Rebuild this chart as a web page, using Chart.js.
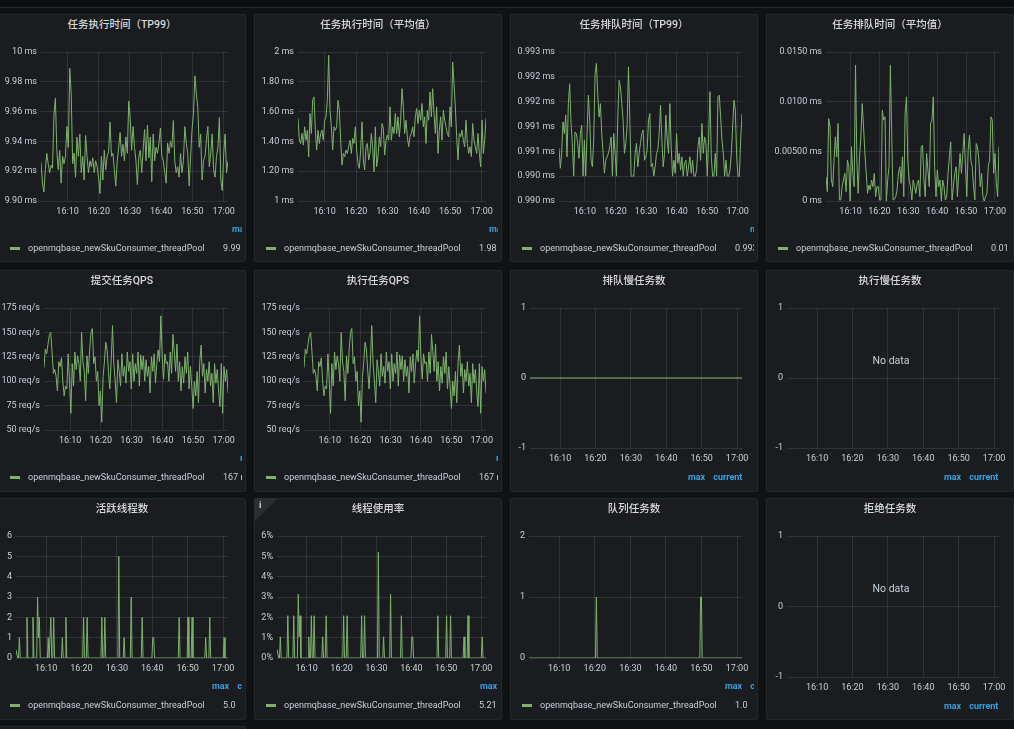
<!DOCTYPE html>
<html>
<head>
<meta charset="utf-8">
<script src="https://cdn.jsdelivr.net/npm/chart.js@4.4.1/dist/chart.umd.min.js"></script>
<style>
  body { margin: 0; width: 1014px; height: 729px; overflow: hidden; position: relative; background: #111214;
         font-family: Roboto, "Noto Sans CJK SC", sans-serif; }
  .topbar { position: absolute; left: 0; top: 0; width: 1014px; height: 7px; background: #0e0f12; border-bottom: 1px solid #26282c; }
  .panel { position: absolute; background: #1a1c20; box-shadow: inset 0 0 0 1px #25272b; border-radius: 2px; overflow: hidden; }
  .title { position: absolute; left: 0; right: 0; top: 4px; text-align: center; color: #d8d9da; font-size: 10.5px; font-weight: 500; line-height: 14px; }
  .box { position: absolute; left: 0; }
  .legend { position: absolute; left: 0; width: 244px; height: 100%; top: 0; overflow: hidden; pointer-events: none; }
  .head { position: absolute; color: #33a2e5; font-size: 9px; font-weight: bold; line-height: 12px; white-space: nowrap; }
  .head span { margin-left: 8px; }
  .row { position: absolute; left: 0; line-height: 12px; font-size: 9px; color: #c7d0d9; white-space: nowrap; }
  .dash { position: absolute; left: 12px; top: 5px; width: 10px; height: 3px; background: #7eb26d; }
  .nodata { position: absolute; left: 0; width: 250px; text-align: center; color: #c7d0d9; font-size: 10.5px; line-height: 14px; }
  .info { position: absolute; left: 0; top: 0; width: 0; height: 0; border-top: 24px solid #2a2d32; border-right: 24px solid transparent; }
  .info-i { position: absolute; left: 5px; top: 2px; color: #c7d0d9; font-size: 9px; font-weight: bold; }
</style>
</head>
<body>
<div class="topbar"></div>
<script>
// time axis, minutes after 16:00
const timeMin = 1.5, timeMax = 61.4;
const timeTicks = [10, 20, 30, 40, 50, 60];
const timeLabels = ['16:10', '16:20', '16:30', '16:40', '16:50', '17:00'];
const seriesName = 'openmqbase_newSkuConsumer_threadPool';

// 任务执行时间（TP99）, ms
const execTp99 = [9.926, 9.912, 9.906, 9.921, 9.932, 9.925, 9.919, 9.924, 9.922, 9.958, 9.969, 9.934, 9.921, 9.934, 9.912, 9.930, 9.925, 9.930, 9.950, 9.936,
  9.989, 9.972, 9.925, 9.932, 9.916, 9.943, 9.930, 9.945, 9.919, 9.930, 9.914, 9.944, 9.930, 9.919, 9.927, 9.923, 9.929, 9.919, 9.927, 9.923,
  9.916, 9.905, 9.930, 9.914, 9.934, 9.921, 9.930, 9.933, 9.953, 9.930, 9.932, 9.921, 9.910, 9.927, 9.936, 9.946, 9.930, 9.938, 9.927, 9.943,
  9.932, 9.967, 9.956, 9.934, 9.950, 9.936, 9.927, 9.911, 9.930, 9.934, 9.919, 9.934, 9.948, 9.927, 9.951, 9.929, 9.943, 9.913, 9.945, 9.927,
  9.936, 9.932, 9.939, 9.949, 9.930, 9.927, 9.919, 9.912, 9.939, 9.932, 9.940, 9.936, 9.954, 9.927, 9.919, 9.923, 9.916, 9.932, 9.919, 9.927,
  9.950, 9.939, 9.932, 9.910, 9.930, 9.948, 9.959, 9.984, 9.972, 9.963, 9.936, 9.945, 9.914, 9.927, 9.930, 9.941, 9.950, 9.923, 9.932, 9.945,
  9.921, 9.916, 9.930, 9.936, 9.956, 9.914, 9.907, 9.932, 9.945, 9.919, 9.927];
const execTp99Ticks = [9.9, 9.92, 9.94, 9.96, 9.98, 10];
const execTp99Labels = ['9.90 ms', '9.92 ms', '9.94 ms', '9.96 ms', '9.98 ms', '10 ms'];

// 任务执行时间（平均值）, ms
const execAvg = [1.554, 1.408, 1.386, 1.453, 1.375, 1.498, 1.408, 1.475, 1.297, 1.587, 1.453, 1.676, 1.699, 1.475, 1.342, 1.475, 1.386, 1.453, 1.475, 1.408,
  1.542, 1.565, 1.676, 1.978, 1.609, 1.498, 1.342, 1.498, 1.475, 1.498, 1.676, 1.609, 1.408, 1.241, 1.319, 1.297, 1.342, 1.319, 1.364, 1.408,
  1.319, 1.420, 1.386, 1.498, 1.342, 1.252, 1.219, 1.342, 1.531, 1.275, 1.208, 1.364, 1.386, 1.275, 1.319, 1.453, 1.364, 1.196, 1.498, 1.230,
  1.297, 1.431, 1.364, 1.520, 1.487, 1.308, 1.408, 1.442, 1.408, 1.632, 1.408, 1.498, 1.453, 1.587, 1.453, 1.565, 1.431, 1.542, 1.754, 1.632,
  1.453, 1.542, 1.431, 1.364, 1.431, 1.453, 1.498, 1.431, 1.565, 1.621, 1.520, 1.609, 1.542, 1.654, 1.498, 1.565, 1.386, 1.609, 1.542, 1.732,
  1.565, 1.754, 1.587, 1.453, 1.632, 1.319, 1.475, 1.565, 1.408, 1.609, 1.542, 1.498, 1.453, 1.431, 1.632, 1.498, 1.933, 1.788, 1.632, 1.431,
  1.275, 1.453, 1.431, 1.475, 1.408, 1.364, 1.542, 1.386, 1.319, 1.364, 1.297, 1.520, 1.408, 1.364, 1.319, 1.453, 1.319, 1.230, 1.542, 1.319,
  1.408, 1.554];
const execAvgTicks = [1, 1.2, 1.4, 1.6, 1.8, 2];
const execAvgLabels = ['1 ms', '1.20 ms', '1.40 ms', '1.60 ms', '1.80 ms', '2 ms'];

// 任务排队时间（TP99）, ms
const queueTp99 = [0.99056, 0.99016, 0.99046, 0.99109, 0.99086, 0.99123, 0.99039, 0.99146, 0.99186, 0.99106, 0.99066, 0.99, 0.99089, 0.99086, 0.99066,
  0.99036, 0.99086, 0.99103, 0.99, 0.99073, 0.99, 0.99086, 0.99163, 0.99113, 0.99032, 0.99019, 0.99073, 0.99206, 0.99227, 0.99166,
  0.99119, 0.99146, 0.99086, 0.99046, 0.99006, 0.99032, 0.99039, 0.99046, 0.99059, 0.99079, 0.99, 0.99086, 0.99046, 0.99, 0.99119,
  0.99193, 0.9918, 0.99146, 0.99113, 0.99046, 0.99066, 0.99099, 0.9922, 0.99119, 0.99, 0.99, 0.99, 0.99046, 0.99066, 0.99019,
  0.99046, 0.99066, 0.99086, 0.99093, 0.99032, 0.99039, 0.99053, 0.99113, 0.99126, 0.99019, 0.99026, 0.99, 0.99019, 0.99046, 0.99053,
  0.99086, 0.99143, 0.99073, 0.99019, 0.99046, 0.99123, 0.99073, 0.99046, 0.99146, 0.99059, 0.99, 0.99032, 0.99006, 0.99086, 0.99026,
  0.99046, 0.99012, 0.99039, 0.99, 0.99026, 0.99032, 0.99, 0.99019, 0.99039, 0.99006, 0.99032, 0.99, 0.99, 0.99012, 0.99059,
  0.99079, 0.99032, 0.99106, 0.99046, 0.99079, 0.99066, 0.99, 0.99073, 0.9917, 0.99039, 0.99, 0.99, 0.99046, 0.99, 0.9916,
  0.99163, 0.99119, 0.99073, 0.99046, 0.99, 0.99032, 0.99, 0.99, 0.99012, 0.99046, 0.99099, 0.99153, 0.99133, 0.99039, 0.99,
  0.99, 0.99073, 0.99126];
const queueTp99Ticks = [0.9895, 0.99, 0.9905, 0.991, 0.9915, 0.992, 0.9925];
const queueTp99Labels = ['0.990 ms', '0.990 ms', '0.991 ms', '0.991 ms', '0.992 ms', '0.992 ms', '0.993 ms'];

// 任务排队时间（平均值）, ms
const queueAvg = [0.00244, 0.00094, 0.0083, 0.00747, 0.00211, 0.00144, 0.00412, 0.00646, 0.00445, 0.0078, 0.0001, 0.0001, 0.00144, 0.00211, 0.00278,
  0.00094, 0.00412, 0.00345, 0, 0.00546, 0.00278, 0.00144, 0.01366, 0.00412, 0.00077, 0.00445, 0.00646, 0.00981, 0.00747, 0.00479,
  0.00278, 0.00077, 0.00161, 0.0011, 0.00211, 0.00144, 0.00278, 0.00044, 0.00144, 0.00144, 0.0001, 0.0001, 0.00914, 0.00814, 0.00847,
  0, 0.00211, 0.00345, 0.01366, 0.0068, 0.0001, 0.00017, 0.00044, 0.0011, 0.00278, 0.00345, 0.00177, 0.00445, 0.00044, 0.00881,
  0.01048, 0.00412, 0.00211, 0.00144, 0.0001, 0.00211, 0.00144, 0.00077, 0.00177, 0.00211, 0.00044, 0.00546, 0.00562, 0.00211, 0.00044,
  0.00479, 0.00311, 0.00144, 0.0078, 0.00814, 0.01048, 0.00345, 0.00044, 0.00311, 0.00144, 0.00211, 0, 0.00211, 0.00144, 0.0001,
  0.00044, 0.00278, 0.00445, 0.00596, 0.0001, 0.00144, 0.00278, 0.00345, 0.00044, 0.00278, 0.00479, 0.00278, 0.00479, 0.0068, 0.00345,
  0.00044, 0.00512, 0.00663, 0.00412, 0.00345, 0.00144, 0.0001, 0.00579, 0.00546, 0.00412, 0.00144, 0.00278, 0.00044, 0, 0.00044,
  0.00077, 0.00345, 0.00412, 0.00847, 0.00814, 0.00278, 0.00479, 0.00177, 0.00044, 0.00546];
const queueAvgTicks = [0, 0.005, 0.01, 0.015];
const queueAvgLabels = ['0 ms', '0.00500 ms', '0.0100 ms', '0.0150 ms'];

// 提交任务QPS / 执行任务QPS, req/s (the two panels show the same curve)
const submitQps = [114, 133, 128, 138, 147, 150, 130, 108, 112, 105, 90, 120, 115, 124, 100, 85, 95, 92, 128, 100,
  67, 118, 95, 130, 112, 126, 118, 100, 150, 120, 110, 80, 126, 108, 132, 150, 154, 118, 125, 100,
  110, 75, 90, 58, 105, 120, 140, 132, 110, 92, 120, 157, 118, 100, 78, 122, 110, 95, 128, 105,
  115, 98, 130, 110, 120, 92, 128, 100, 118, 108, 130, 95, 127, 112, 126, 100, 122, 105, 115, 88,
  125, 110, 128, 98, 118, 132, 120, 167, 125, 102, 128, 118, 120, 100, 130, 108, 148, 130, 110, 138,
  100, 120, 90, 115, 98, 125, 108, 130, 92, 115, 95, 72, 100, 85, 110, 78, 120, 137, 105, 118,
  88, 112, 100, 120, 95, 108, 78, 118, 98, 112, 90, 74, 118, 67, 115, 100, 112, 88];
const execQps = submitQps;
const qpsTicks = [50, 75, 100, 125, 150, 175];
const qpsLabels = ['50 req/s', '75 req/s', '100 req/s', '125 req/s', '150 req/s', '175 req/s'];

// 活跃线程数 / 线程使用率, sampled at these minutes
const threadTimes = [1.5, 1.75, 2.0, 2.2, 2.45, 2.7, 4.35, 4.6, 4.85, 6.05, 6.3, 6.55, 7.35, 7.6, 7.85, 8.1, 8.35,
  10.4, 10.6, 10.85, 11.1, 11.35, 11.6, 11.9, 12.15, 12.4, 14.35, 14.6, 14.85, 15.35, 15.6, 15.85,
  20.35, 20.6, 20.85, 21.35, 21.6, 21.85, 25.5, 25.75, 26.0, 26.35, 26.6, 26.85, 30.3, 30.55, 30.8,
  31.8, 32.05, 32.3, 33.8, 34.05, 34.3, 36.9, 37.15, 37.4, 39.9, 40.15, 40.4, 40.65, 47.35, 47.6, 47.85,
  49.85, 50.1, 50.35, 51.0, 51.25, 51.5, 54.85, 55.1, 55.35, 56.0, 56.25, 56.5, 60.05, 60.3, 60.55, 61.4];
const activeThreads = [0.4, 0.4, 0, 0, 1, 0, 0, 2, 0, 0, 2, 0, 0, 3, 1, 2, 0,
  0, 1, 0, 0, 2, 0, 0, 2, 0, 0, 1, 0, 0, 2, 0,
  0, 2, 0, 0, 2, 0, 0, 2, 0, 0, 2, 0, 0, 5, 0,
  0, 1, 0, 0, 3, 0, 0, 2, 0, 0, 1, 1, 0, 0, 2, 0,
  0, 2, 0, 0, 2, 0, 0, 1, 0, 0, 2, 0, 0, 1, 0, 0];
const threadUsage = [0.42, 0.42, 0, 0, 1.04, 0, 0, 2.08, 0, 0, 2.08, 0, 0, 3.13, 1.04, 2.08, 0,
  0, 1.04, 0, 0, 2.08, 0, 0, 2.08, 0, 0, 1.04, 0, 0, 2.08, 0,
  0, 2.08, 0, 0, 2.08, 0, 0, 2.08, 0, 0, 2.08, 0, 0, 5.21, 0,
  0, 1.04, 0, 0, 3.13, 0, 0, 2.08, 0, 0, 1.04, 1.04, 0, 0, 2.08, 0,
  0, 2.08, 0, 0, 2.08, 0, 0, 1.04, 0, 0, 2.08, 0, 0, 1.04, 0, 0];
const countTicks6 = [0, 1, 2, 3, 4, 5, 6];
const countLabels6 = ['0', '1', '2', '3', '4', '5', '6'];
const usageLabels = ['0%', '1%', '2%', '3%', '4%', '5%', '6%'];

// 队列任务数
const queuedTimes = [1.5, 20.2, 20.45, 20.7, 49.55, 49.75, 50.0, 50.2, 61.4];
const queuedTasks = [0, 0, 1, 0, 0, 1, 1, 0, 0];
const countTicks2 = [0, 1, 2];
const countLabels2 = ['0', '1', '2'];

// 排队慢任务数 (flat zero), 执行慢任务数 / 拒绝任务数 (no data)
const slowQueueTimes = [timeMin, timeMax];
const slowQueueTasks = [0, 0];
const unitTicks = [-1, 0, 1];
const unitLabels = ['-1', '0', '1'];

function spread(values) {
  const step = (timeMax - timeMin) / (values.length - 1);
  return values.map((v, i) => ({ x: timeMin + i * step, y: v }));
}
function pairs(times, values) {
  return times.map((t, i) => ({ x: t, y: values[i] }));
}

const colLeft = [-2, 254, 510, 766];
const rowTop = [14, 270, 498];
const rowHeight = [248, 222, 222];
const panelW = 248;

const panels = [
  { col: 0, row: 0, title: '任务执行时间（TP99）', gl: 43, gr: 230, gb: 187, ticks: execTp99Ticks, labels: execTp99Labels, points: spread(execTp99), head: 234, value: '9.99' },
  { col: 1, row: 0, title: '任务执行时间（平均值）', gl: 44, gr: 232, gb: 187, ticks: execAvgTicks, labels: execAvgLabels, points: spread(execAvg), head: 235, value: '1.98' },
  { col: 2, row: 0, title: '任务排队时间（TP99）', gl: 49, gr: 232, gb: 187, ticks: queueTp99Ticks, labels: queueTp99Labels, points: spread(queueTp99), head: 240, value: '0.993 ms' },
  { col: 3, row: 0, title: '任务排队时间（平均值）', gl: 60, gr: 233, gb: 187, ticks: queueAvgTicks, labels: queueAvgLabels, points: spread(queueAvg), head: 250, value: '0.01' },
  { col: 0, row: 1, title: '提交任务QPS', gl: 46, gr: 230, gb: 160, ticks: qpsTicks, labels: qpsLabels, points: spread(submitQps), head: 242, value: '167 req/s' },
  { col: 1, row: 1, title: '执行任务QPS', gl: 50, gr: 232, gb: 160, ticks: qpsTicks, labels: qpsLabels, points: spread(execQps), head: 242, value: '167 req/s' },
  { col: 2, row: 1, title: '排队慢任务数', gl: 20, gr: 232, gb: 178, ticks: unitTicks, labels: unitLabels, points: pairs(slowQueueTimes, slowQueueTasks), head: 178 },
  { col: 3, row: 1, title: '执行慢任务数', gl: 21, gr: 233, gb: 178, ticks: unitTicks, labels: unitLabels, points: null, head: 178 },
  { col: 0, row: 2, title: '活跃线程数', gl: 18, gr: 230, gb: 160, ticks: countTicks6, labels: countLabels6, points: pairs(threadTimes, activeThreads), head: 214, value: '5.0' },
  { col: 1, row: 2, title: '线程使用率', gl: 23, gr: 232, gb: 160, ticks: countTicks6, labels: usageLabels, points: pairs(threadTimes, threadUsage), head: 226, value: '5.21', info: true },
  { col: 2, row: 2, title: '队列任务数', gl: 19, gr: 232, gb: 160, ticks: countTicks2, labels: countLabels2, points: pairs(queuedTimes, queuedTasks), head: 215, value: '1.0' },
  { col: 3, row: 2, title: '拒绝任务数', gl: 21, gr: 233, gb: 179, ticks: unitTicks, labels: unitLabels, points: null, head: 178 }
];

Chart.defaults.font.family = 'Roboto, "Noto Sans CJK SC", sans-serif';
Chart.defaults.font.size = 9;
Chart.defaults.color = '#c7d0d9';
const gridColor = 'rgba(204,204,220,0.13)';
const gt = 38;

panels.forEach(p => {
  const el = document.createElement('div');
  el.className = 'panel';
  el.style.left = colLeft[p.col] + 'px';
  el.style.top = rowTop[p.row] + 'px';
  el.style.width = panelW + 'px';
  el.style.height = rowHeight[p.row] + 'px';
  let html = '';
  if (p.info) html += '<div class="info"></div><div class="info-i">i</div>';
  html += '<div class="title">' + p.title + '</div>';
  const boxH = p.gb - gt + 10 + 22;
  html += '<div class="box" style="top:' + (gt - 10) + 'px;width:' + panelW + 'px;height:' + boxH + 'px"><canvas width="' + panelW + '" height="' + boxH + '"></canvas></div>';
  html += '<div class="legend">';
  if (p.value) {
    html += '<div class="head" style="left:' + p.head + 'px;top:' + (p.gb + 22) + 'px">max<span>current</span></div>';
    html += '<div class="row" style="top:' + (p.gb + 41) + 'px"><div class="dash"></div><span style="position:absolute;left:30px">' + seriesName +
            '</span><span style="position:absolute;left:225px">' + p.value + '</span></div>';
  } else {
    html += '<div class="head" style="left:' + p.head + 'px;top:' + (p.gb + 23) + 'px">max<span>current</span></div>';
  }
  html += '</div>';
  if (!p.points) html += '<div class="nodata" style="top:84px">No data</div>';
  el.innerHTML = html;
  document.body.appendChild(el);

  new Chart(el.querySelector('canvas'), {
    type: 'line',
    data: {
      datasets: p.points ? [{
        label: seriesName,
        data: p.points,
        borderColor: '#7eb26d',
        borderWidth: 1,
        pointRadius: 0,
        tension: 0,
        fill: false
      }] : []
    },
    options: {
      responsive: false,
      animation: false,
      layout: { padding: { top: 10, left: 0, right: panelW - p.gr, bottom: 0 } },
      plugins: { legend: { display: false }, tooltip: { enabled: false } },
      scales: {
        x: {
          type: 'linear',
          min: timeMin,
          max: timeMax,
          afterBuildTicks: axis => { axis.ticks = timeTicks.map(v => ({ value: v })); },
          afterFit: axis => { axis.height = 22; },
          ticks: { autoSkip: false, maxRotation: 0, padding: 5, callback: (v, i) => timeLabels[i] },
          grid: { color: gridColor, drawTicks: false },
          border: { display: false }
        },
        y: {
          type: 'linear',
          min: p.ticks[0],
          max: p.ticks[p.ticks.length - 1],
          afterBuildTicks: axis => { axis.ticks = p.ticks.map(v => ({ value: v })); },
          afterFit: axis => { axis.width = p.gl; },
          ticks: { padding: 4, callback: (v, i) => p.labels[i] },
          grid: { color: gridColor, drawTicks: false },
          border: { display: false }
        }
      }
    }
  });
});

// bottom row peeking in
const peek = document.createElement('div');
peek.className = 'panel';
peek.style.cssText = 'left:-2px;top:726px;width:248px;height:30px;';
document.body.appendChild(peek);
</script>
</body>
</html>
